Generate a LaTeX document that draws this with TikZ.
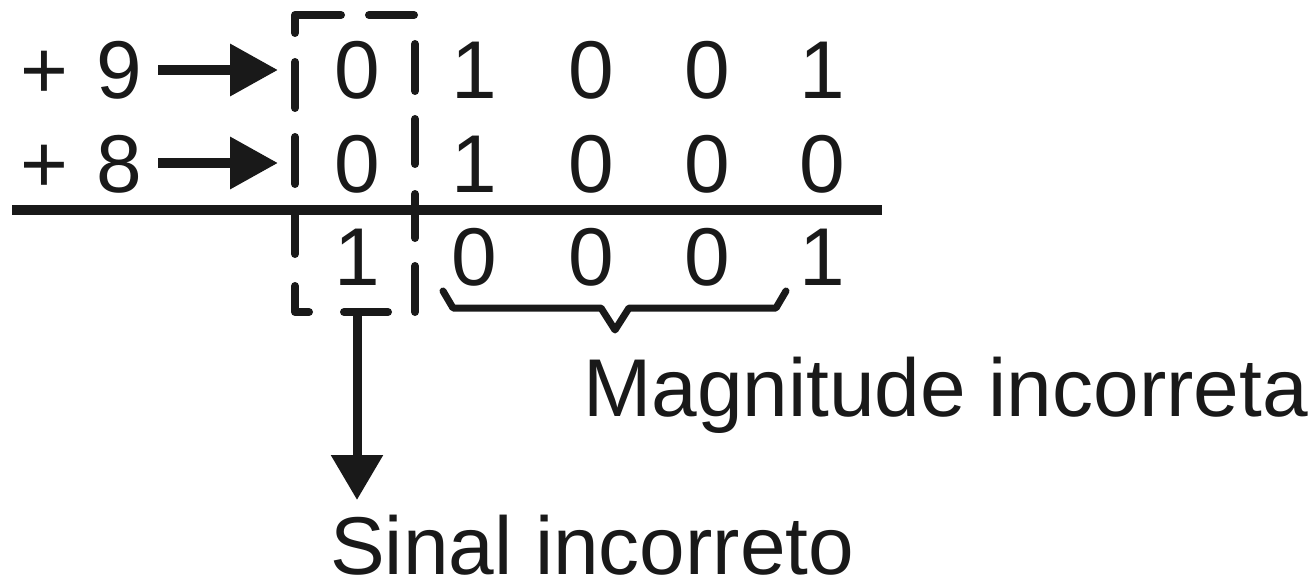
\documentclass[tikz,border=0pt]{standalone}
\usepackage{fontspec}
\setmainfont{Liberation Sans}
\usetikzlibrary{arrows.meta}
\tikzset{
  txt/.style={inner sep=0pt, anchor=base, font=\fontsize{82}{98}\selectfont, text=black!90},
  lbl/.style={inner sep=0pt, text depth=0pt, anchor=base west, font=\fontsize{82}{98}\selectfont, text=black!90},
  rule/.style={line width=10pt, black!90},
  harrow/.style={line width=10pt, black!90, -{Triangle[length=48pt,width=50pt]}},
  varrow/.style={line width=9pt, black!90, -{Triangle[length=45pt,width=50pt]}},
  dsh/.style={line width=8pt, black!90, line cap=round, line join=round},
  brace/.style={line width=7pt, black!90, line join=round, line cap=round}
}
\begin{document}
\begin{tikzpicture}[x=1pt,y=-1pt]
\useasboundingbox (0,0) rectangle (1312,583);
% row 1
\node[txt] (p1) at (44,99) {+};
\node[txt] (n9) at (119,99) {9};
\node[txt] (a0) at (357,99) {0};
\node[txt] (a1) at (474,99) {1};
\node[txt] (a2) at (591,99) {0};
\node[txt] (a3) at (707,99) {0};
\node[txt] (a4) at (822,99) {1};
% row 2
\node[txt] (p2) at (44,192) {+};
\node[txt] (n8) at (119,192) {8};
\node[txt] (b0) at (357,192) {0};
\node[txt] (b1) at (474,192) {1};
\node[txt] (b2) at (591,192) {0};
\node[txt] (b3) at (707,192) {0};
\node[txt] (b4) at (822,192) {0};
% row 3
\node[txt] (c0) at (357,285) {1};
\node[txt] (c1) at (474,285) {0};
\node[txt] (c2) at (591,285) {0};
\node[txt] (c3) at (707,285) {0};
\node[txt] (c4) at (822,285) {1};
% labels
\node[lbl] (mag) at (583,416) {Magnitude incorreta};
\node[lbl] (sin) at (330,574) {Sinal incorreto};
% coordinates
\coordinate (t9s) at (158,70);
\coordinate (t9e) at (278,70);
\coordinate (t8s) at (158,163);
\coordinate (t8e) at (278,163);
\coordinate (ls) at (12,210);
\coordinate (le) at (882,210);
\coordinate (ss) at (357,312);
\coordinate (se) at (357,500);
% arrows
\draw[harrow] (t9s) -- (t9e);
\draw[harrow] (t8s) -- (t8e);
% sum line
\draw[rule] (ls) -- (le);
% dashed box
\draw[dsh] (295,33) -- (295,15) -- (341,15);
\draw[dsh] (369,15) -- (414,15);
\draw[dsh] (295,62) -- (295,108);
\draw[dsh] (295,137) -- (295,184);
\draw[dsh] (295,214) -- (295,254);
\draw[dsh] (295,286) -- (295,312) -- (309,312);
\draw[dsh] (344,312) -- (388,312);
\draw[dsh] (415,44) -- (415,91);
\draw[dsh] (415,119) -- (415,164);
\draw[dsh] (415,194) -- (415,238);
\draw[dsh] (415,266) -- (415,312);
% sign arrow
\draw[varrow] (ss) -- (se);
% brace
\draw[brace] (443,291) -- (453,308) -- (601,308) -- (615,330) -- (629,308) -- (776,308) -- (786,291);
\end{tikzpicture}
\end{document}
